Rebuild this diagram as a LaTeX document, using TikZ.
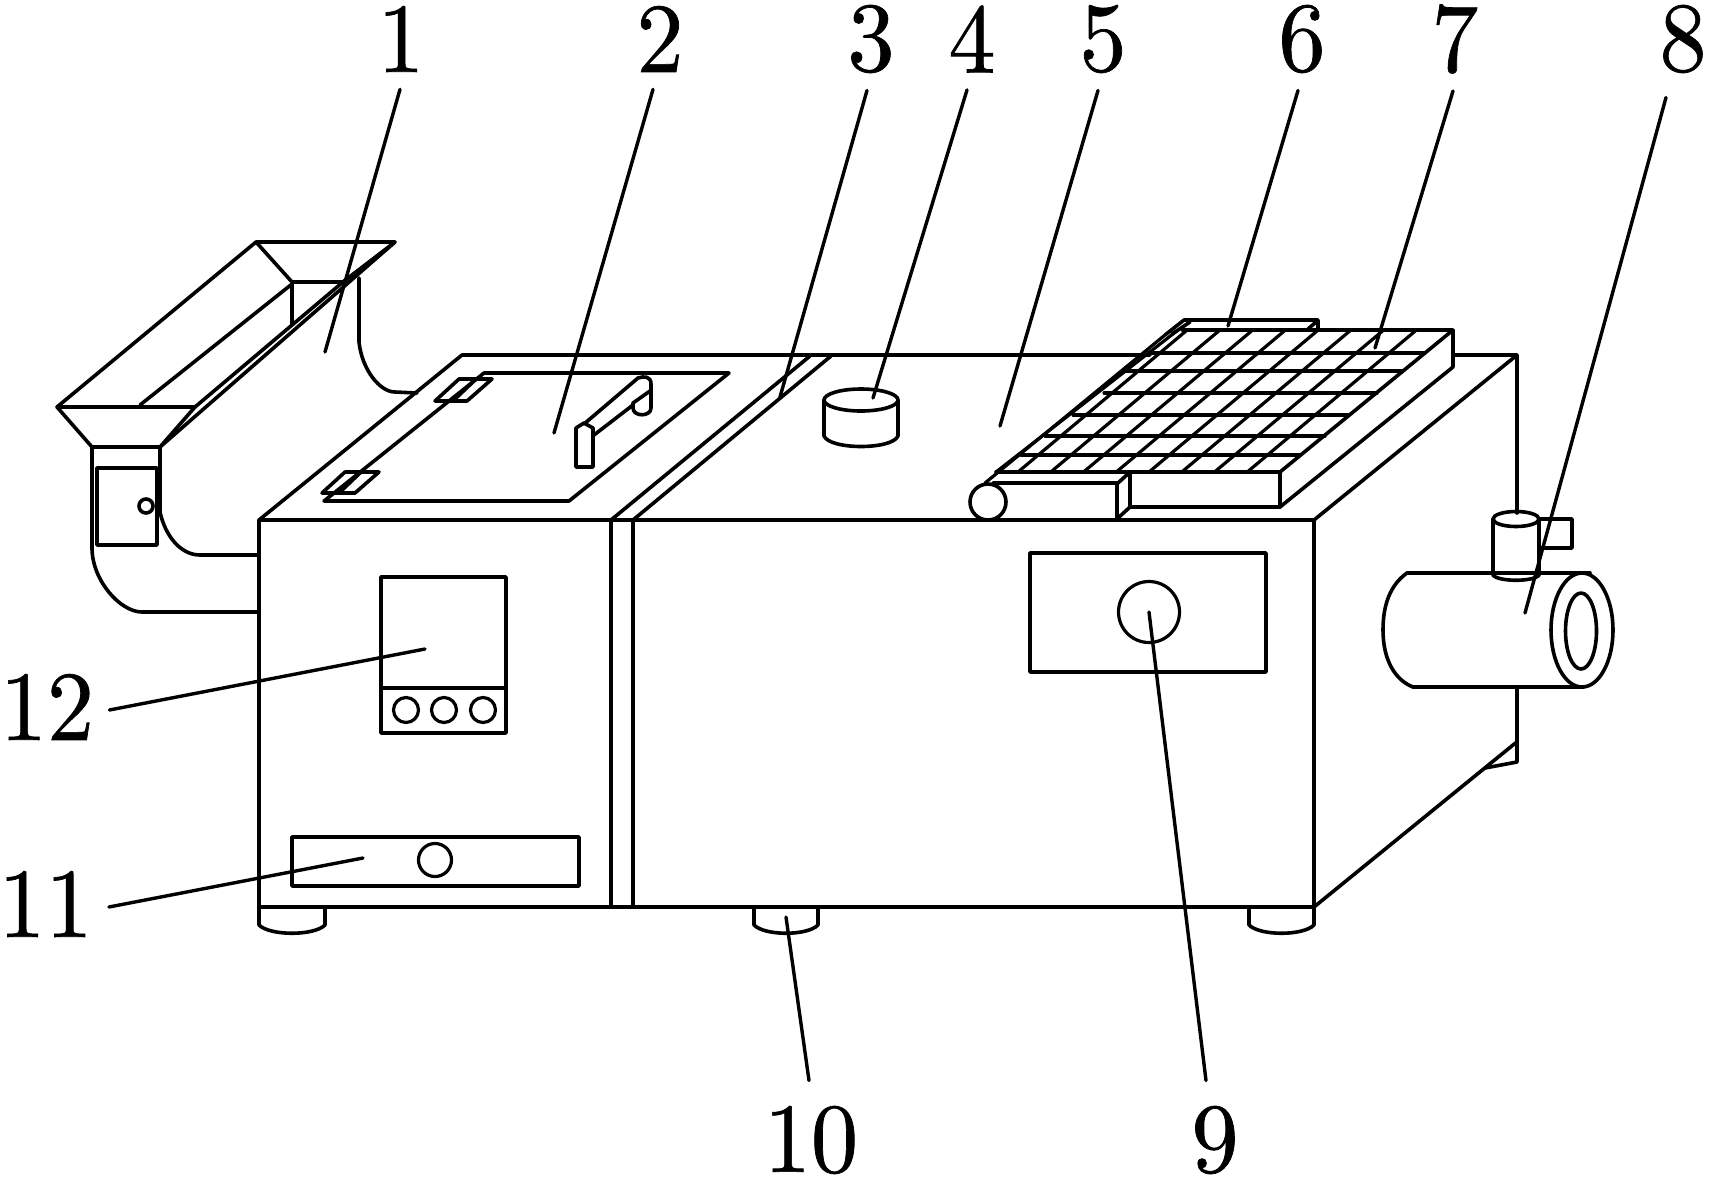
\documentclass[tikz,border=0pt]{standalone}
\usepackage{fontspec}
\newfontfamily\numfont{lmroman10-regular.otf}[FakeBold=0.7,FakeStretch=0.95]
\tikzset{
  ln/.style={line width=1.8pt,line cap=round,line join=round},
  thin ln/.style={line width=1.6pt,line cap=round,line join=round},
  leader/.style={line width=1.7pt,line cap=round},
  num/.style={font=\numfont\fontsize{49.5}{49.5}\selectfont,inner xsep=7pt,inner ysep=8pt}
}
\begin{document}
\begin{tikzpicture}[x=0.5pt,y=-0.5pt]
\path[use as bounding box,fill=white] (0,0) rectangle (1713,1179);
% labels
\node[num] (n1) at (401,39) {1};
\node[num] (n2) at (660,39) {2};
\node[num] (n3) at (871,39) {3};
\node[num] (n4) at (972,39) {4};
\node[num] (n5) at (1103,39) {5};
\node[num] (n6) at (1302,39) {6};
\node[num] (n7) at (1455,39) {7};
\node[num] (n8) at (1683,39) {8};
\node[num] (n9) at (1215,1140) {9};
\node[num] (n10) at (811,1140) {10};
\node[num] (n11) at (45.5,904) {11};
\node[num] (n12) at (47,707) {12};
% leader ends
\coordinate (e1) at (325,352);
\coordinate (e2) at (554,433);
\coordinate (e3) at (780,397);
\coordinate (e4) at (873,398);
\coordinate (e5) at (1000,426);
\coordinate (e6) at (1228,326);
\coordinate (e7) at (1375,348);
\coordinate (e8) at (1525,613);
\coordinate (e9) at (1149,612);
\coordinate (e10) at (786,917);
\coordinate (e11) at (363,858);
\coordinate (e12) at (425,649);
% hopper
\begin{scope}[ln]
\draw (57,407) -- (195,407) -- (160,447) -- (92,447) -- cycle;
\draw (256,242) -- (395,242) -- (343,282) -- (292,282) -- cycle;
\draw (57,407) -- (256,242);
\draw (140,405) -- (292,284) -- (292,325);
\draw (195,407) -- (343,282) -- (388,248);
\draw (160,447) -- (395,242);
\draw (92,447) -- (92,548) .. controls (92,580) and (120,612) .. (142,612) -- (259,612);
\draw (160,447) -- (160,512) .. controls (165,535) and (180,555) .. (200,555) -- (259,555);
\draw (359,278) -- (359,342) .. controls (362,370) and (380,392) .. (395,392) -- (417,393);
\draw (97,468) rectangle (157,545);
\draw (146,506) circle[radius=7];
% housing
\draw (259,907) -- (259,520) -- (1314,520) -- (1314,907) -- cycle;
\draw (259,520) -- (462,355) -- (1150,355);
\draw (1453,355) -- (1517,355) -- (1517,513);
\draw (1517,687) -- (1517,762) -- (1485,768);
\draw (1314,520) -- (1517,355);
\draw (1314,907) -- (1513,745) -- (1517,742);
\draw (611,520) -- (611,907);
\draw (633,520) -- (633,907);
\draw (611,520) -- (810,356);
\draw (633,520) -- (831,356);
% feet
\draw (259,907) -- (259,925) .. controls (270,936) and (314,936) .. (325,925) -- (325,907);
\draw (754,907) -- (754,925) .. controls (765,936) and (807,936) .. (818,925) -- (818,907);
\draw (1249,907) -- (1249,925) .. controls (1260,936) and (1303,936) .. (1314,925) -- (1314,907);
% lid
\draw (324,501) -- (569,501) -- (729,373) -- (484,373) -- cycle;
\draw (459,379) -- (492,379) -- (467,401) -- (435,401) -- cycle;
\draw (476,379) -- (453,401);
\draw (345,472) -- (379,472) -- (355,493) -- (322,493) -- cycle;
\draw (361,472) -- (339,493);
% handle
\draw (576,467) -- (576,428) -- (584,423) -- (593,428) -- (593,467) -- cycle;
\draw (584,424) -- (638,378) .. controls (644,376) and (651,376) .. (651,384) -- (651,408) .. controls (651,417) and (633,417) .. (633,408) -- (633,403) -- (650,391);
\draw (594,435) -- (633,405);
% cylinder 4
\draw (861,400) ellipse[x radius=37,y radius=11];
\draw (824,400) -- (824,436) .. controls (830,450) and (892,450) .. (898,436) -- (898,400);
% grid
\draw (1182,330) -- (1453,330) -- (1453,367) -- (1280,507) -- (1130,507) -- (1130,472);
\draw (996,472) -- (1280,472) -- (1280,507);
\draw (1280,472) -- (1453,330);
\end{scope}
\begin{scope}[thin ln]
\foreach \ya/\xa/\xb in {353/1148/1425,371/1125/1403,393/1104/1377,415/1073/1348,436/1045/1325,455/1021/1300}
  \draw (\xa,\ya) -- (\xb,\ya);
\foreach \i in {0,...,7}
  \draw ({1018+\i*32.75},472) -- ({1186+\i*32.75},331);
\draw (996,472) -- (1178,330);
\draw (985,483) -- (1165,335);
\end{scope}
\begin{scope}[ln]
% roller 6
\draw (1165,335) -- (1184,320) -- (1318,320) -- (1318,330);
\draw (1172,334) -- (1190,322);
\draw (1308,329) -- (1316,322);
% roller and bar at front of belt
\draw (988,502) circle[radius=18];
\draw (993,483) -- (1118,483) -- (1130,472);
\draw (1117,483) -- (1117,520);
\draw (1118,518) -- (1130,507);
% pipe
\draw (1407,573) -- (1590,573);
\draw (1413,687) -- (1583,687);
\draw (1407,573) .. controls (1390,585) and (1383,605) .. (1383,630) .. controls (1383,660) and (1395,680) .. (1413,687);
\draw (1582,630) ellipse[x radius=31,y radius=57];
\draw (1581,631) ellipse[x radius=15.5,y radius=38];
% valve
\draw (1516,519) ellipse[x radius=23,y radius=7.5];
\draw (1493,519) -- (1493,575) .. controls (1498,582) and (1534,582) .. (1539,575) -- (1539,519);
\draw (1539,519) -- (1572,519) -- (1572,548) -- (1539,548);
% control panel
\draw (381,577) rectangle (506,733);
\draw (381,688) -- (506,688);
\draw (292,837) rectangle (579,886);
% window 9
\draw (1030,553) rectangle (1266,672);
\end{scope}
\begin{scope}[thin ln]
\draw (406,710) circle[radius=12.5];
\draw (444,710) circle[radius=12.5];
\draw (483,710) circle[radius=12.5];
\draw (435,860) circle[radius=16.5];
\draw (1149,612) circle[radius=30.5];
\end{scope}
% leaders
\draw[leader] (n1.south) ++(-1,1) -- (e1);
\draw[leader] (n2.south) ++(-7,1) -- (e2);
\draw[leader] (n3.south) ++(-4,1) -- (e3);
\draw[leader] (n4.south) ++(-5,1) -- (e4);
\draw[leader] (n5.south) ++(-5,1) -- (e5);
\draw[leader] (n6.south) ++(-4,1) -- (e6);
\draw[leader] (n7.south) ++(-2,1) -- (e7);
\draw[leader] (n8.south) ++(-17,8) -- (e8);
\draw[leader] (n9.north) ++(-9,-9) -- (e9);
\draw[leader] (n10.north) ++(-2,-9) -- (e10);
\draw[leader] (n11.east) ++(2,3) -- (e11);
\draw[leader] (n12.east) ++(1,3) -- (e12);
\end{tikzpicture}
\end{document}
